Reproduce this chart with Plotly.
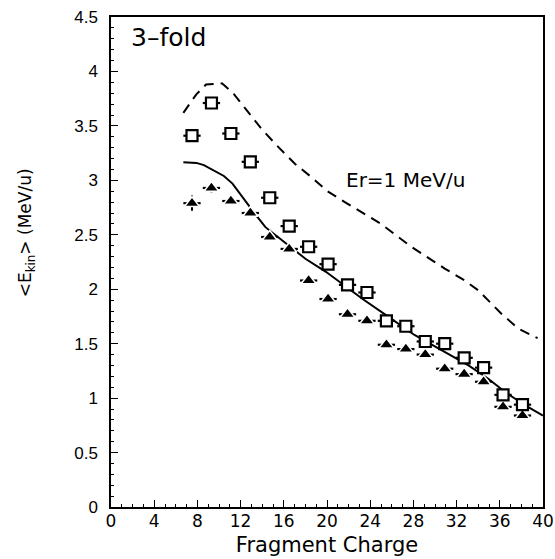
import plotly.graph_objects as go

# ---- data ----
charge = [7.5, 9.3, 11.1, 12.9, 14.7, 16.5, 18.3, 20.1, 21.9, 23.7,
          25.5, 27.3, 29.1, 30.9, 32.7, 34.5, 36.3, 38.1]
ekin_squares = [3.41, 3.71, 3.43, 3.17, 2.84, 2.58, 2.39, 2.23, 2.04, 1.97,
                1.71, 1.66, 1.52, 1.50, 1.37, 1.28, 1.03, 0.94]
ekin_triangles = [2.79, 2.93, 2.81, 2.70, 2.48, 2.37, 2.08, 1.91, 1.77, 1.71,
                  1.49, 1.45, 1.40, 1.27, 1.22, 1.15, 0.92, 0.84]
charge_err = [0.8] * len(charge)
tri_err_y = [0.07, 0.04] + [0.0] * (len(charge) - 2)

solid_x = [6.7, 7.9, 8.6, 9.4, 10.45, 11.25, 12.2, 13.35, 14.3, 16.2, 18.0,
           19.9, 21.7, 23.3, 25.5, 28.1, 30.6, 33.1, 34.9, 36.7, 38.6, 40.0]
solid_y = [3.165, 3.16, 3.14, 3.10, 3.04, 2.97, 2.84, 2.69, 2.57, 2.42, 2.28,
           2.16, 2.03, 1.91, 1.76, 1.58, 1.44, 1.30, 1.18, 1.04, 0.92, 0.84]

dashed_x = [6.7, 7.9, 8.8, 10.3, 11.4, 12.75, 13.95, 15.55, 17.05, 18.55, 20.05,
            21.65, 23.45, 25.0, 26.2, 27.8, 30.9, 32.75, 34.0, 36.1, 37.7, 39.0, 39.5]
dashed_y = [3.62, 3.79, 3.88, 3.89, 3.79, 3.62, 3.47, 3.30, 3.15, 3.03, 2.90,
            2.80, 2.69, 2.60, 2.51, 2.39, 2.19, 2.08, 1.99, 1.78, 1.64, 1.57, 1.55]

x_ticks = [0, 4, 8, 12, 16, 20, 24, 28, 32, 36, 40]
y_ticks = [0, 0.5, 1, 1.5, 2, 2.5, 3, 3.5, 4, 4.5]
y_tick_labels = ["0", "0.5", "1", "1.5", "2", "2.5", "3", "3.5", "4", "4.5"]

FONT = "DejaVu Sans"

fig = go.Figure()

fig.add_trace(go.Scatter(
    x=dashed_x, y=dashed_y, mode="lines",
    line=dict(color="black", width=2, dash="10px,7px"),
    showlegend=False, hoverinfo="skip"))

fig.add_trace(go.Scatter(
    x=solid_x, y=solid_y, mode="lines",
    line=dict(color="black", width=2),
    showlegend=False, hoverinfo="skip"))

fig.add_trace(go.Scatter(
    x=charge, y=ekin_triangles, mode="markers",
    marker=dict(symbol="triangle-up", size=13, color="black",
                line=dict(color="white", width=1.5)),
    error_x=dict(type="data", array=charge_err, color="black", thickness=2.2, width=0),
    error_y=dict(type="data", array=tri_err_y, color="black", thickness=2, width=0),
    showlegend=False))

fig.add_trace(go.Scatter(
    x=charge, y=ekin_squares, mode="markers",
    marker=dict(symbol="square", size=11, color="white",
                line=dict(color="black", width=2.2)),
    error_x=dict(type="data", array=charge_err, color="black", thickness=2.2, width=0),
    showlegend=False))

fig.add_annotation(x=1.7, y=4.31, xref="x", yref="y", text="3\u2013fold",
                   showarrow=False, xanchor="left", yanchor="middle",
                   font=dict(family=FONT, size=25, color="black"))
fig.add_annotation(x=21.6, y=3.0, xref="x", yref="y", text="Er=1 MeV/u",
                   showarrow=False, xanchor="left", yanchor="middle",
                   font=dict(family=FONT, size=20, color="black"))
fig.add_annotation(x=-0.195, y=0.56, xref="paper", yref="paper",
                   text="<E<sub>kin</sub>> (MeV/u)", textangle=-90,
                   showarrow=False, xanchor="center", yanchor="middle",
                   font=dict(family=FONT, size=17, color="black"))

fig.update_xaxes(
    range=[0, 40], tickmode="array", tickvals=x_ticks,
    ticktext=[str(v) for v in x_ticks], automargin=False,
    ticks="inside", ticklen=7, tickwidth=1.2, tickcolor="black",
    minor=dict(dtick=1, ticks="inside", ticklen=3.5, tickcolor="black", tickwidth=1),
    showline=True, linecolor="black", linewidth=1.5, mirror=True,
    showgrid=False, zeroline=False, ticklabelstandoff=-2,
    tickfont=dict(family=FONT, size=17, color="black"),
    title=dict(text="Fragment Charge", font=dict(family=FONT, size=21, color="black"),
               standoff=7))

fig.update_yaxes(
    range=[0, 4.5], tickmode="array", tickvals=y_ticks, ticktext=y_tick_labels,
    automargin=False,
    ticks="inside", ticklen=7, tickwidth=1.2, tickcolor="black",
    minor=dict(dtick=0.1, ticks="inside", ticklen=3.5, tickcolor="black", tickwidth=1),
    showline=True, linecolor="black", linewidth=1.5, mirror=True,
    showgrid=False, zeroline=False, ticklabelstandoff=8,
    tickfont=dict(family="Liberation Sans", size=17, color="black"))

fig.update_layout(
    width=555, height=559,
    margin=dict(l=111, r=12, t=17, b=52, autoexpand=False),
    paper_bgcolor="white", plot_bgcolor="white",
    showlegend=False)

fig.write_html(
    "out.html",
    config={"displayModeBar": False},
    post_script=("document.documentElement.style.overflow='hidden';"
                 "document.body.style.margin='0';"
                 "document.body.style.overflow='hidden';"))
